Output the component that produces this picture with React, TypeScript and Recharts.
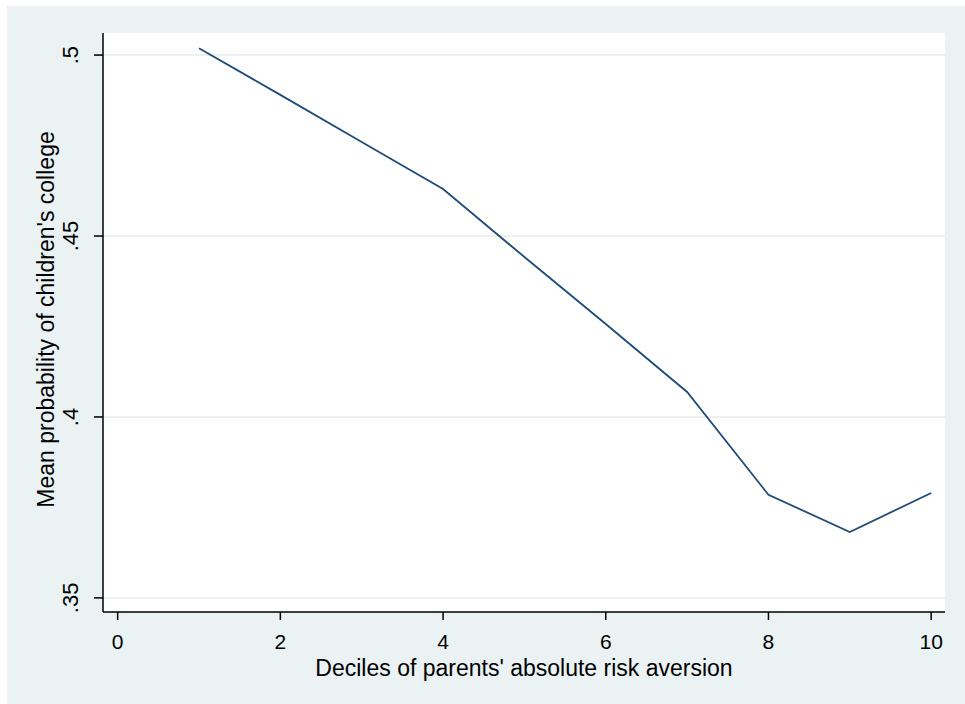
import { LineChart, Line, XAxis, YAxis, CartesianGrid, Label } from "recharts";

// deciles and mean probability
const deciles = [1, 2, 3, 4, 5, 6, 7, 8, 9, 10];
const meanProb = [0.5019, 0.489, 0.476, 0.463, 0.4442, 0.4257, 0.4069, 0.3785, 0.3682, 0.379];

const xTicks = [0, 2, 4, 6, 8, 10];
const yTicks = [0.35, 0.4, 0.45, 0.5];
const yTickLabels = [".35", ".4", ".45", ".5"];

const xTitle = "Deciles of parents' absolute risk aversion";
const yTitle = "Mean probability of children's college";

const data = deciles.map((d, i) => ({ decile: d, prob: meanProb[i] }));

const FONT = "'Liberation Sans', Arial, sans-serif";
const BG = "#eaf2f3";
const NAVY = "#1f4c77";

function XTick(props: any) {
  const { x, y, payload } = props;
  return (
    <text x={x} y={y + 19} textAnchor="middle" dominantBaseline="central"
      fontFamily={FONT} fontSize={21} fill="#000">
      {payload.value}
    </text>
  );
}

function YTick(props: any) {
  const { x, y, payload } = props;
  const idx = yTicks.indexOf(payload.value);
  const cx = x - 21;
  return (
    <text x={cx} y={y} textAnchor="middle" dominantBaseline="central"
      transform={`rotate(-90 ${cx} ${y})`}
      fontFamily={FONT} fontSize={22} fill="#000">
      {idx >= 0 ? yTickLabels[idx] : payload.value}
    </text>
  );
}

function XTitle(props: any) {
  const vb = props.viewBox || {};
  return (
    <text x={vb.x + vb.width / 2} y={vb.y + 56} textAnchor="middle" dominantBaseline="central"
      fontFamily={FONT} fontSize={23} fill="#000">
      {xTitle}
    </text>
  );
}

function YTitle(props: any) {
  const vb = props.viewBox || {};
  const cx = 46;
  const cy = vb.y + vb.height / 2 - 3;
  return (
    <text x={cx} y={cy} textAnchor="middle" dominantBaseline="central"
      transform={`rotate(-90 ${cx} ${cy})`}
      fontFamily={FONT} fontSize={23} fill="#000">
      {yTitle}
    </text>
  );
}

export default function App() {
  return (
    <div style={{ position: "absolute", left: 0, top: 0, width: 965, height: 704, background: "#fff" }}>
      <div style={{ position: "absolute", left: 7, top: 6, right: 0, bottom: 0, background: BG }} />
      <div style={{ position: "absolute", left: 0, top: 0 }}>
        <LineChart width={965} height={704} data={data}
          margin={{ top: 33, right: 20, bottom: 0, left: 0 }}>
          <CartesianGrid horizontal vertical={false} fill="#fff" stroke="#e4eced" strokeWidth={1.5}
            horizontalValues={yTicks} />
          <XAxis dataKey="decile" type="number" domain={[-0.18, 10.17]} ticks={xTicks}
            allowDataOverflow height={92} tick={<XTick />} tickSize={8}
            axisLine={{ stroke: "#000", strokeWidth: 1.5 }} tickLine={{ stroke: "#000", strokeWidth: 1.5 }}>
            <Label content={<XTitle />} />
          </XAxis>
          <YAxis type="number" domain={[0.3461, 0.5061]} ticks={yTicks} allowDataOverflow
            width={103} tick={<YTick />} tickSize={9}
            axisLine={{ stroke: "#000", strokeWidth: 1.5 }} tickLine={{ stroke: "#000", strokeWidth: 1.5 }}>
            <Label content={<YTitle />} />
          </YAxis>
          <Line type="linear" dataKey="prob" stroke={NAVY} strokeWidth={1.8} dot={false}
            isAnimationActive={false} />
        </LineChart>
      </div>
    </div>
  );
}
